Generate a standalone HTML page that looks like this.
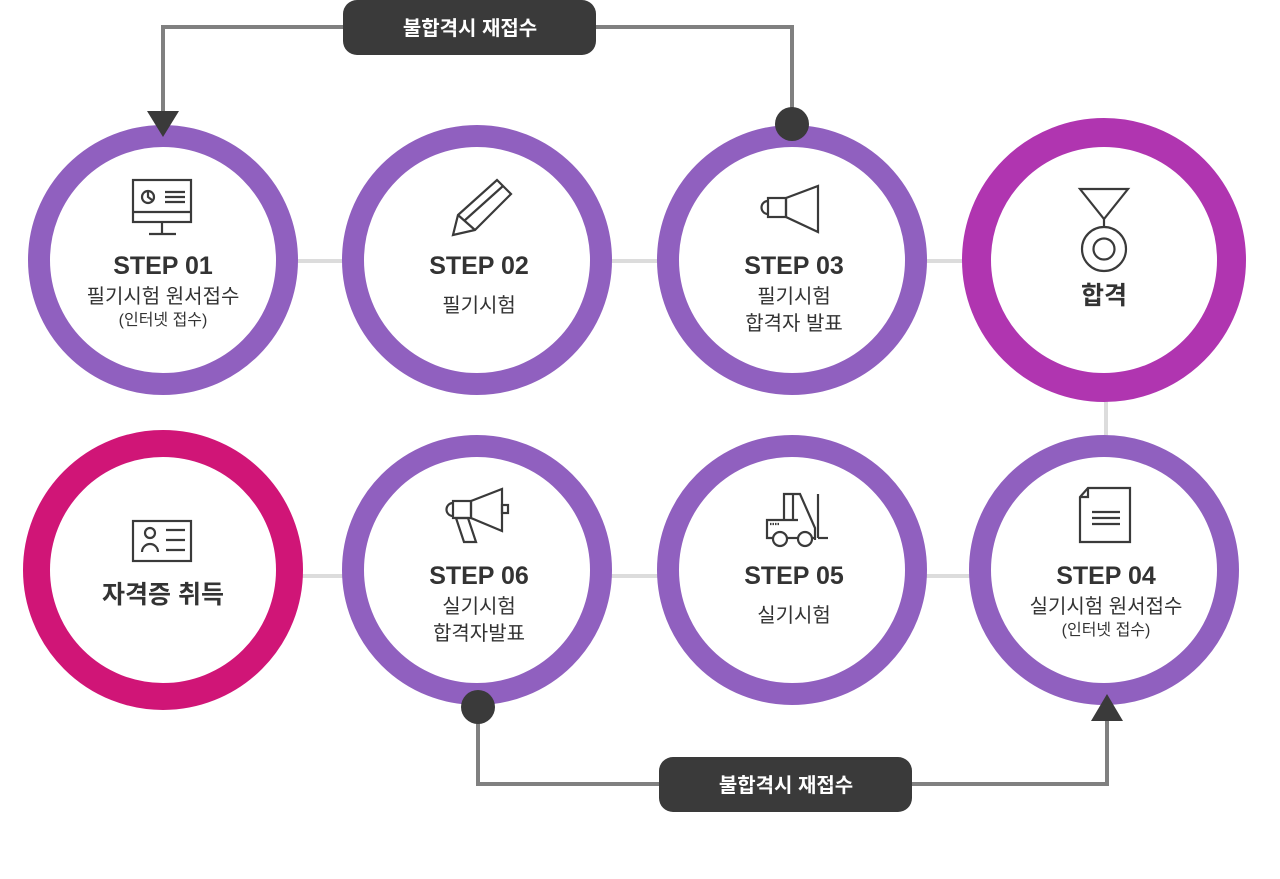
<!DOCTYPE html>
<html><head><meta charset="utf-8"><style>
html,body{margin:0;padding:0;background:#fff;}
svg{display:block;}
text{font-family:"Liberation Sans","Noto Sans CJK KR",sans-serif;fill:#333;text-anchor:middle;}
.t{font-size:25px;font-weight:bold;}
.k{font-size:20px;}
.s{font-size:16px;}
.i{fill:none;stroke:#3a3a3a;stroke-width:2.2;}
</style></head><body>
<svg width="1280" height="879" viewBox="0 0 1280 879" xmlns="http://www.w3.org/2000/svg">
<!-- light connectors -->
<g stroke="#dcdcdc" stroke-width="4">
<line x1="290" y1="261" x2="350" y2="261"/>
<line x1="605" y1="261" x2="665" y2="261"/>
<line x1="920" y1="261" x2="970" y2="261"/>
<line x1="1106" y1="395" x2="1106" y2="440"/>
<line x1="300" y1="576" x2="350" y2="576"/>
<line x1="605" y1="576" x2="665" y2="576"/>
<line x1="920" y1="576" x2="975" y2="576"/>
</g>
<!-- loops -->
<g stroke="#808080" stroke-width="4" fill="none">
<polyline points="163,115 163,27 792,27 792,124"/>
<polyline points="478,707 478,784 1107,784 1107,700"/>
</g>
<!-- rings -->
<g fill="#fff">
<circle cx="163" cy="260" r="124" stroke="#9060bf" stroke-width="22"/>
<circle cx="477" cy="260" r="124" stroke="#9060bf" stroke-width="22"/>
<circle cx="792" cy="260" r="124" stroke="#9060bf" stroke-width="22"/>
<circle cx="1104" cy="260" r="127.5" stroke="#b035b0" stroke-width="29"/>
<circle cx="163" cy="570" r="126.5" stroke="#d01577" stroke-width="27"/>
<circle cx="477" cy="570" r="124" stroke="#9060bf" stroke-width="22"/>
<circle cx="792" cy="570" r="124" stroke="#9060bf" stroke-width="22"/>
<circle cx="1104" cy="570" r="124" stroke="#9060bf" stroke-width="22"/>
</g>
<!-- arrowheads & dots -->
<polygon points="147,111 179,111 163,137" fill="#3a3a3a"/>
<circle cx="792" cy="124" r="17" fill="#3a3a3a"/>
<circle cx="478" cy="707" r="17" fill="#3a3a3a"/>
<polygon points="1091,721 1123,721 1107,694" fill="#3a3a3a"/>
<!-- labels -->
<rect x="343" y="0" width="253" height="55" rx="14" fill="#3a3a3a"/>
<text x="470" y="35" style="fill:#fff;font-size:20px;font-weight:bold">불합격시 재접수</text>
<rect x="659" y="757" width="253" height="55" rx="14" fill="#3a3a3a"/>
<text x="786" y="792" style="fill:#fff;font-size:20px;font-weight:bold">불합격시 재접수</text>
<!-- icons -->
<g class="i">
<rect x="133" y="180" width="58" height="42"/><line x1="133" y1="212" x2="191" y2="212"/>
<line x1="162" y1="222" x2="162" y2="234"/><line x1="149" y1="234" x2="176" y2="234"/>
<circle cx="148" cy="197" r="6"/><polyline points="148,192 148,197 152,200"/>
<line x1="165" y1="192" x2="185" y2="192"/><line x1="165" y1="197" x2="185" y2="197"/><line x1="165" y1="202" x2="185" y2="202"/>
<polygon points="453,235 458,215 497,180 511,194 475,230"/>
<line x1="458" y1="215" x2="475" y2="230"/><line x1="464" y1="221" x2="503" y2="186"/>
<rect x="768" y="198" width="18" height="19"/><path d="M768,201 a6,6 0 0 0 0,13"/>
<polygon points="786,198 818,186 818,232 786,217"/>
<polygon points="1080,189 1128,189 1104,219"/><line x1="1104" y1="219" x2="1104" y2="227"/>
<circle cx="1104" cy="249" r="22"/><circle cx="1104" cy="249" r="10.5"/>
<rect x="133" y="521" width="58" height="40"/><circle cx="150" cy="533" r="5"/>
<path d="M142,552 a8,8 0 0 1 16,0"/>
<line x1="166" y1="530" x2="185" y2="530"/><line x1="166" y1="540" x2="185" y2="540"/><line x1="166" y1="550" x2="185" y2="550"/>
<rect x="453" y="501" width="18" height="17"/><path d="M453,503 a6,6 0 0 0 0,13"/>
<polygon points="471,501 502,489 502,531 471,518"/><rect x="502" y="505" width="6" height="8"/>
<polygon points="456,518 464,542 476,542 468,518"/>
<polyline points="784,520 784,494 800,494 815,528 815,540"/>
<line x1="793" y1="494" x2="793" y2="520"/>
<polyline points="798,520 767,520 767,538 773,538"/><line x1="786" y1="538" x2="798" y2="538"/>
<line x1="812" y1="538" x2="815" y2="538"/>
<line x1="818" y1="494" x2="818" y2="538"/><polyline points="818,538 828,538"/>
<circle cx="780" cy="539" r="7"/><circle cx="805" cy="539" r="7"/>
<line x1="770" y1="524" x2="780" y2="524" stroke-dasharray="1.5 1"/>
<polygon points="1088,488 1130,488 1130,542 1080,542 1080,497"/>
<polyline points="1080,497 1088,497 1088,488"/>
<line x1="1092" y1="512" x2="1120" y2="512"/><line x1="1092" y1="518" x2="1120" y2="518"/><line x1="1092" y1="524" x2="1120" y2="524"/>
</g>
<!-- texts -->
<text class="t" x="163" y="274">STEP 01</text>
<text class="k" x="163" y="303">필기시험 원서접수</text>
<text class="s" x="163" y="325">(인터넷 접수)</text>
<text class="t" x="479" y="274">STEP 02</text>
<text class="k" x="479" y="312">필기시험</text>
<text class="t" x="794" y="274">STEP 03</text>
<text class="k" x="794" y="303">필기시험</text>
<text class="k" x="794" y="330">합격자 발표</text>
<text class="t" x="1104" y="304">합격</text>
<text class="t" x="163" y="603">자격증 취득</text>
<text class="t" x="479" y="584">STEP 06</text>
<text class="k" x="479" y="613">실기시험</text>
<text class="k" x="479" y="640">합격자발표</text>
<text class="t" x="794" y="584">STEP 05</text>
<text class="k" x="794" y="622">실기시험</text>
<text class="t" x="1106" y="584">STEP 04</text>
<text class="k" x="1106" y="613">실기시험 원서접수</text>
<text class="s" x="1106" y="635">(인터넷 접수)</text>
</svg>
</body></html>
